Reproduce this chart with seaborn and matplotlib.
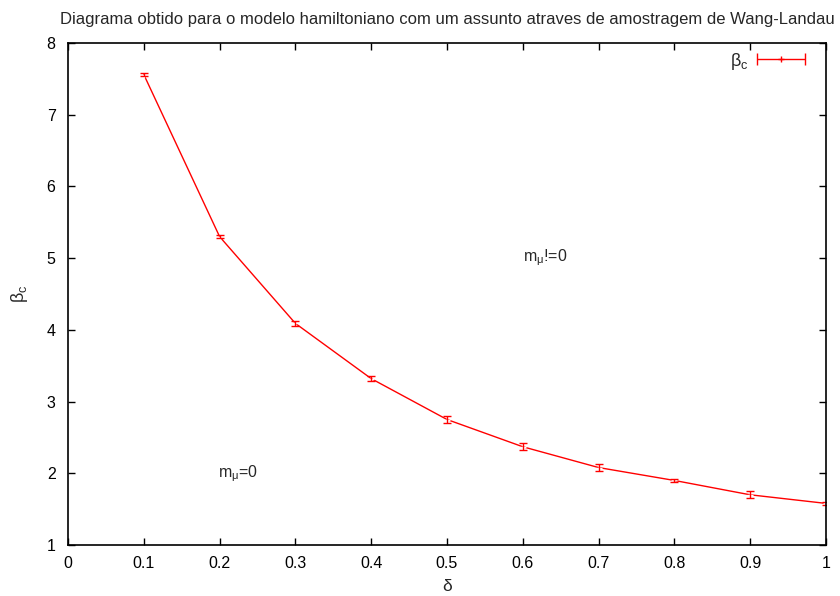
import matplotlib
matplotlib.use("Agg")
import matplotlib.pyplot as plt
import seaborn as sns
import pandas as pd

delta = [0.1, 0.2, 0.3, 0.4, 0.5, 0.6, 0.7, 0.8, 0.9, 1.0]
beta_c = [7.56, 5.30, 4.09, 3.32, 2.75, 2.37, 2.08, 1.90, 1.70, 1.58]
beta_err = [0.02, 0.02, 0.03, 0.03, 0.05, 0.05, 0.05, 0.02, 0.05, 0.02]

sns.set_style("ticks")
plt.rcParams["font.family"] = ["Liberation Sans", "DejaVu Sans"]
plt.rcParams["mathtext.fontset"] = "custom"
plt.rcParams["mathtext.rm"] = "Liberation Sans"
plt.rcParams["mathtext.it"] = "Liberation Sans"

df = pd.DataFrame({"delta": delta, "beta_c": beta_c, "err": beta_err})

fig = plt.figure(figsize=(8.4, 5.96), dpi=100)
ax = fig.add_axes([68 / 840, 1 - 545 / 596, 758 / 840, 502 / 596])

red = "#ff0000"
sns.lineplot(data=df, x="delta", y="beta_c", ax=ax, color=red, lw=1.0,
             marker="+", markersize=5, markeredgewidth=1.0, legend=False)
ax.errorbar(df["delta"], df["beta_c"], yerr=df["err"], fmt="none",
            ecolor=red, elinewidth=1.0, capsize=3, capthick=1.0)

ax.set_xlim(0, 1)
ax.set_ylim(1, 8)
ax.set_xticks([0, 0.1, 0.2, 0.3, 0.4, 0.5, 0.6, 0.7, 0.8, 0.9, 1])
ax.set_xticklabels(["0", "0.1", "0.2", "0.3", "0.4", "0.5", "0.6", "0.7", "0.8", "0.9", "1"])
ax.set_yticks(range(1, 9))
ax.tick_params(axis="x", pad=8)
ax.tick_params(axis="y", pad=9)
ax.tick_params(direction="in", length=5, width=1, top=True, right=True,
               labelsize=11.5, colors="black")
for s in ax.spines.values():
    s.set_visible(True)
    s.set_linewidth(1.2)
    s.set_color("black")

ax.set_xlabel("δ", fontsize=12.5, labelpad=6)
ax.set_ylabel(r"$\beta_\mathrm{c}$", fontsize=13, labelpad=12)
ax.set_title("Diagrama obtido para o modelo hamiltoniano com um assunto atraves de amostragem de Wang-Landau",
             fontsize=12, pad=14)

ax.text(0.224, 2.0, r"m$_\mu$=0", fontsize=11.5, ha="center", va="center")
ax.text(0.630, 5.0, r"m$_\mu$!=0", fontsize=11.5, ha="center", va="center")

# key entry in the upper right corner
ax.errorbar([0.9406], [7.77], xerr=[0.0317], fmt="none", ecolor=red,
            elinewidth=1.0, capsize=4, capthick=1.0)
ax.plot([0.9406], [7.77], marker="+", color=red, markersize=5, mew=1.0)
ax.text(0.897, 7.74, r"$\beta_\mathrm{c}$", fontsize=13, ha="right", va="center")

fig.savefig("out.png", dpi=100)
